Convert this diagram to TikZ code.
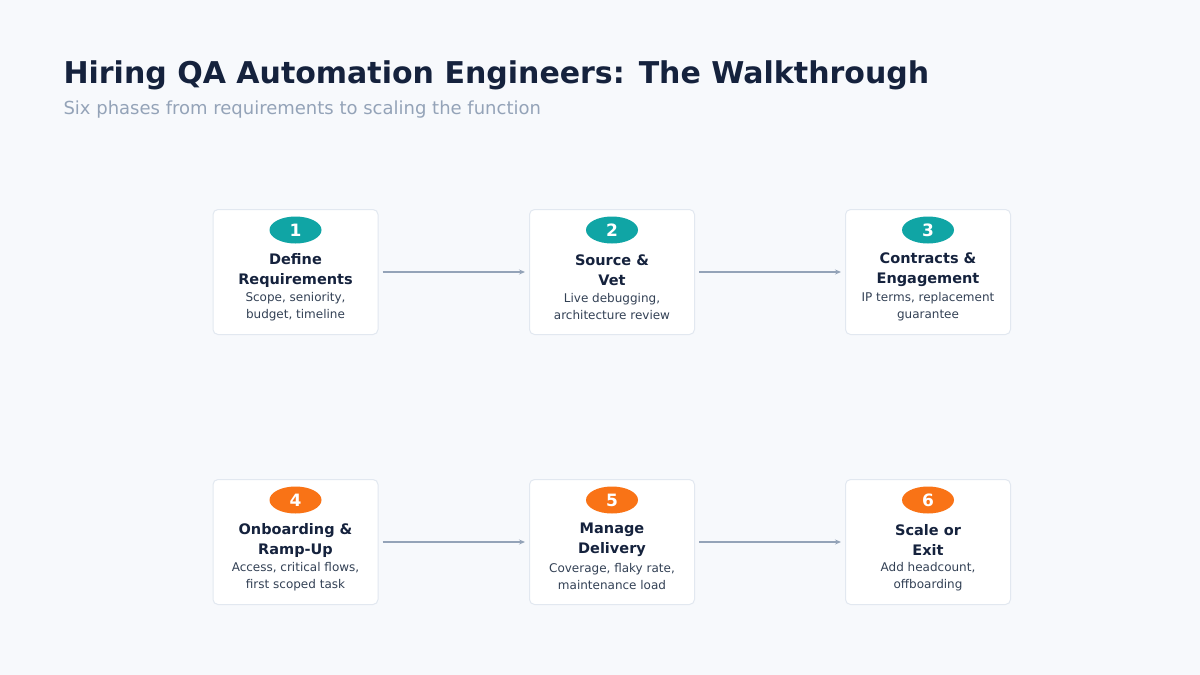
\documentclass[tikz,border=0pt]{standalone}
\usepackage{fontspec}
\setmainfont{DejaVu Sans}
\usetikzlibrary{arrows.meta,shapes.geometric}
\definecolor{bg}{HTML}{F7F9FC}
\definecolor{navy}{HTML}{15223D}
\definecolor{subt}{HTML}{94A3B8}
\definecolor{desc}{HTML}{334155}
\definecolor{teal}{HTML}{10A5A5}
\definecolor{orng}{HTML}{F97316}
\definecolor{bord}{HTML}{E2E8F0}
\definecolor{arr}{HTML}{94A3B8}
\begin{document}
\begin{tikzpicture}[x=1pt,y=-1pt,
 card/.style={draw=bord,line width=1pt,fill=white,rounded corners=5pt,minimum width=165pt,minimum height=125pt},
 badge/.style={ellipse,fill=#1,minimum width=52pt,minimum height=27pt,inner sep=0pt,text=white,font=\bfseries\fontsize{17}{17}\selectfont},
 ttl/.style={font=\bfseries\fontsize{14.5}{20}\selectfont,text=navy,align=center},
 dsc/.style={font=\fontsize{12}{17}\selectfont,text=desc,align=center},
 link/.style={draw=arr,line width=1.5pt,-{Stealth[length=6pt,width=5pt]}}]
\fill[bg] (0,0) rectangle (1200,675);
\node[anchor=base west,text=navy,font=\bfseries\fontsize{30}{30}\selectfont] (t) at (60,83) {Hiring QA Automation Engineers: The Walkthrough};
\node[anchor=base west,text=subt,font=\fontsize{18}{18}\selectfont] (s) at (60,114) {Six phases from requirements to scaling the function};
\foreach \i/\x/\y/\c/\a/\b/\d/\e in {
1/295.5/272/teal/Define/Requirements/{Scope, seniority,}/{budget, timeline},
2/612/272/teal/{Source \&}/Vet/{Live debugging,}/{architecture review},
3/928/272/teal/{Contracts \&}/Engagement/{IP terms, replacement}/guarantee,
4/295.5/542/orng/{Onboarding \&}/Ramp-Up/{Access, critical flows,}/{first scoped task},
5/612/542/orng/Manage/Delivery/{Coverage, flaky rate,}/{maintenance load},
6/928/542/orng/{Scale or}/Exit/{Add headcount,}/offboarding}{
 \node[card] (c\i) at (\x,\y) {};
 \node[badge=\c] (b\i) at (\x,\y-42) {\i};
 \node[ttl] (h\i) at (\x,\y-2) {\a\\\b};
 \node[dsc] (d\i) at (\x,\y+35) {\d\\\e};
}
\foreach \a/\b in {1/2,2/3,4/5,5/6}{
 \draw[link] ([xshift=4pt]c\a.east) -- ([xshift=-4pt]c\b.west);
}
\end{tikzpicture}
\end{document}
